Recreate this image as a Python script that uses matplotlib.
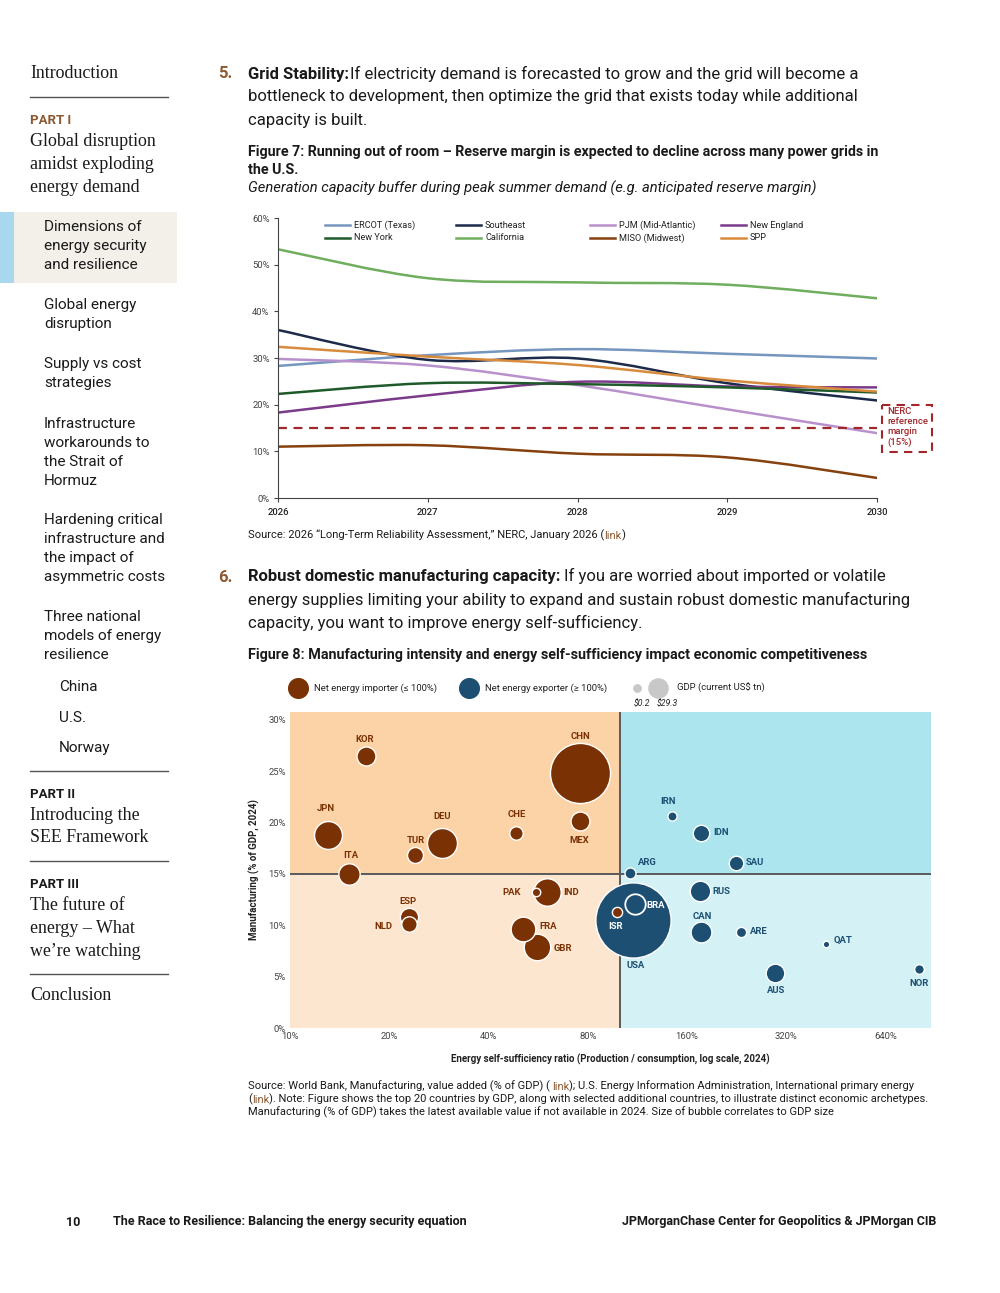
import matplotlib
matplotlib.use("Agg")
import matplotlib.pyplot as plt
from matplotlib.lines import Line2D
from matplotlib.path import Path
from matplotlib.patches import PathPatch, Rectangle

plt.rcParams['font.family'] = ['Roboto', 'DejaVu Sans']

# Figure 7: 予備率の見通し (%)
years = [2026, 2027, 2028, 2029, 2030]
ercot = [28.3, 30.6, 31.9, 30.9, 29.9]
southeast = [36.0, 29.6, 29.9, 24.6, 20.9]
pjm = [29.8, 28.4, 24.2, 19.0, 13.9]
new_england = [18.3, 22.0, 24.9, 23.9, 23.7]
new_york = [22.3, 24.6, 24.4, 23.7, 22.6]
california = [53.3, 47.1, 46.2, 45.7, 42.8]
miso = [11.0, 11.3, 9.5, 8.7, 4.3]
spp = [32.4, 30.3, 28.5, 25.2, 22.8]
nerc_margin = 15

region_names = ['ERCOT (Texas)', 'Southeast', 'PJM (Mid-Atlantic)', 'New England',
                'New York', 'California', 'MISO (Midwest)', 'SPP']
region_values = [ercot, southeast, pjm, new_england, new_york, california, miso, spp]

# Figure 8: 自給率 vs 製造業比率
countries = ['USA', 'CHN', 'DEU', 'JPN', 'IND', 'GBR', 'FRA', 'ITA', 'CAN', 'BRA',
             'RUS', 'KOR', 'MEX', 'AUS', 'ESP', 'IDN', 'TUR', 'NLD', 'SAU', 'CHE',
             'ARG', 'ISR', 'ARE', 'NOR', 'IRN', 'PAK', 'QAT']
self_sufficiency = [110, 76, 29, 13, 60, 56, 51, 15.1, 177, 111,
                    175, 17, 75.6, 296, 23, 177, 23.9, 23, 225, 48.6,
                    107.6, 98.3, 234, 808, 144, 55.8, 423]
manufacturing = [10.5, 24.8, 18.0, 18.8, 13.2, 7.9, 9.6, 15.0, 9.3, 12.1,
                 13.3, 26.5, 20.1, 5.4, 10.8, 19.0, 16.8, 10.1, 16.1, 19.0,
                 15.1, 11.3, 9.35, 5.76, 20.6, 13.2, 8.2]
gdp_tn = [29.3, 18.7, 4.66, 4.03, 3.91, 3.64, 3.16, 2.37, 2.24, 2.17,
          2.17, 1.87, 1.85, 1.80, 1.72, 1.40, 1.32, 1.23, 1.09, 0.94,
          0.63, 0.54, 0.54, 0.48, 0.44, 0.37, 0.22]
ratio_split = 100
manuf_split = 15

# 色など
line_colors = {'ERCOT (Texas)': '#7596BE', 'Southeast': '#1C2B4A', 'PJM (Mid-Atlantic)': '#B890CB',
               'New England': '#7B3A8A', 'New York': '#1F5A2A', 'California': '#6FAE5E',
               'MISO (Midwest)': '#86410F', 'SPP': '#D88B3C'}
BROWN = '#7A3205'
BLUE = '#1D4F73'
ACCENT = '#8C5A32'
TEXT = '#1a1a1a'
NERC_RED = '#A0282B'

# ラベルの位置 (points)
label_offsets = {'KOR': (-1, 11.4), 'JPN': (-1, 19.2), 'ITA': (1, 13.3), 'TUR': (1, 11), 'DEU': (0, 18.8),
                 'CHE': (0, 13.3), 'CHN': (0, 26.6), 'MEX': (0, -13.7), 'PAK': (-18, 0), 'IND': (18, 0),
                 'ESP': (-1, 11.4), 'NLD': (-18.5, -1.5), 'FRA': (18, 1.8), 'GBR': (19, -1.1),
                 'ISR': (-1.5, -10.3), 'BRA': (15.5, -1.1), 'USA': (2, -32.5), 'ARG': (12.5, 7.7),
                 'IRN': (-2.5, 10.7), 'IDN': (14.5, 0), 'SAU': (14, 0), 'RUS': (15.5, 0),
                 'CAN': (1, 11.8), 'ARE': (12.5, 0), 'QAT': (12.5, 2.6), 'AUS': (0.5, -12.9),
                 'NOR': (0, -10.7)}
white_labels = ['ISR', 'BRA']

W, H = 1000, 1293
fig = plt.figure(figsize=(10, 12.93), dpi=100)
pg = fig.add_axes([0, 0, 1, 1], zorder=0)
pg.set_xlim(0, W)
pg.set_ylim(H, 0)
pg.axis('off')


def txt(x, y, s, size, **kw):
    kw.setdefault('va', 'center')
    kw.setdefault('color', TEXT)
    return pg.text(x, y, s, fontsize=size, **kw)


def chain(x, y, parts, size, **kw):
    # 太字と通常を同じ行につなげる
    t = txt(x, y, parts[0][0], size, **{**kw, **parts[0][1]})
    for s, props in parts[1:]:
        gap = props.pop('gap', 0)
        p = {'color': TEXT, **kw, **props}
        p.pop('va', None)
        t = pg.annotate(s, xy=(1, 0), xycoords=t, xytext=(gap, 0), textcoords='offset points',
                        va='bottom', ha='left', fontsize=size, **p)
    return t


def ax_rect(l, t, r, b):
    return [l / W, 1 - b / H, (r - l) / W, (b - t) / H]


# ---- サイドバー ----
serif = 'Liberation Serif'
SER = 12.9
pg.add_patch(Rectangle((0, 212), 177, 71, color='#F3EFE9', lw=0))
pg.add_patch(Rectangle((0, 212), 14, 71, color='#A9D7EE', lw=0))
txt(30, 74, 'Introduction', SER, family=serif)
for yy in [97, 771, 861, 974]:
    pg.plot([30, 168], [yy, yy], color='#555555', lw=1)
txt(30, 120, 'PART I', 9.5, weight='bold', color=ACCENT)
for i, s in enumerate(['Global disruption', 'amidst exploding', 'energy demand']):
    txt(30, 142 + i * 22.5, s, SER, family=serif)
side_items = [
    (227, ['Dimensions of', 'energy security', 'and resilience']),
    (305, ['Global energy', 'disruption']),
    (364, ['Supply vs cost', 'strategies']),
    (424, ['Infrastructure', 'workarounds to', 'the Strait of', 'Hormuz']),
    (520, ['Hardening critical', 'infrastructure and', 'the impact of', 'asymmetric costs']),
    (617, ['Three national', 'models of energy', 'resilience']),
]
for y0, lines in side_items:
    for i, s in enumerate(lines):
        txt(44, y0 + i * 18.9, s, 11)
for yy, s in [(687, 'China'), (718, 'U.S.'), (748, 'Norway')]:
    txt(59, yy, s, 11)
txt(30, 794, 'PART II', 9.5, weight='bold')
txt(30, 816, 'Introducing the', SER, family=serif)
txt(30, 838, 'SEE Framework', SER, family=serif)
txt(30, 884, 'PART III', 9.5, weight='bold')
for i, s in enumerate(['The future of', 'energy \u2013 What', 'we\u2019re watching']):
    txt(30, 906 + i * 22.5, s, SER, family=serif)
txt(30, 996, 'Conclusion', SER, family=serif)

# ---- 本文 ----
BODY = 12.0
txt(218, 74, '5.', BODY, weight='bold', color=ACCENT)
chain(248, 74, [('Grid Stability:', {'weight': 'bold'}),
                ('If electricity demand is forecasted to grow and the grid will become a', {'gap': 1})], BODY)
txt(248, 96, 'bottleneck to development, then optimize the grid that exists today while additional', BODY)
txt(248, 120, 'capacity is built.', BODY)
txt(248, 152, 'Figure 7: Running out of room \u2013 Reserve margin is expected to decline across many power grids in',
    10.3, weight='bold')
txt(248, 170, 'the U.S.', 10.3, weight='bold')
txt(248, 188, 'Generation capacity buffer during peak summer demand (e.g. anticipated reserve margin)',
    10.6, style='italic')
chain(248, 535, [('Source: 2026 \u201cLong-Term Reliability Assessment,\u201d NERC, January 2026 (', {}),
                 ('link', {'color': ACCENT}), (')', {})], 8.0)

txt(218, 577, '6.', BODY, weight='bold', color=ACCENT)
chain(248, 577, [('Robust domestic manufacturing capacity:', {'weight': 'bold'}),
                 ('If you are worried about imported or volatile', {'gap': 2.5})], BODY)
txt(248, 600, 'energy supplies limiting your ability to expand and sustain robust domestic manufacturing', BODY)
txt(248, 623, 'capacity, you want to improve energy self-sufficiency.', BODY)
txt(248, 655, 'Figure 8: Manufacturing intensity and energy self-sufficiency impact economic competitiveness',
    10.4, weight='bold')

SRC = 8.05
chain(248, 1086, [('Source: World Bank, Manufacturing, value added (% of GDP) (', {}),
                  ('link', {'color': ACCENT, 'gap': 1.5}),
                  ('); U.S. Energy Information Administration, International primary energy', {})], SRC)
chain(248, 1099, [('(', {}), ('link', {'color': ACCENT}),
                  ('). Note: Figure shows the top 20 countries by GDP, along with selected additional countries, '
                   'to illustrate distinct economic archetypes.', {})], SRC)
txt(248, 1112, 'Manufacturing (% of GDP) takes the latest available value if not available in 2024. '
    'Size of bubble correlates to GDP size', SRC)

txt(66, 1222, '10', 9.0, weight='bold')
txt(113, 1222, 'The Race to Resilience: Balancing the energy security equation', 9.0, weight='bold')
txt(936, 1222, 'JPMorganChase Center for Geopolitics & JPMorgan CIB', 9.0, weight='bold', ha='right')

# ---- Figure 7 ----
ax1 = fig.add_axes(ax_rect(278, 218, 877, 498), zorder=1)
ax1.patch.set_alpha(0)


def smooth_path(xs, ys):
    pts = list(zip(xs, ys))
    verts = [pts[0]]
    codes = [Path.MOVETO]
    n = len(pts)
    for i in range(n - 1):
        p0, p1 = pts[max(i - 1, 0)], pts[i]
        p2, p3 = pts[i + 1], pts[min(i + 2, n - 1)]
        c1 = (p1[0] + (p2[0] - p0[0]) / 6, p1[1] + (p2[1] - p0[1]) / 6)
        c2 = (p2[0] - (p3[0] - p1[0]) / 6, p2[1] - (p3[1] - p1[1]) / 6)
        verts += [c1, c2, p2]
        codes += [Path.CURVE4] * 3
    return Path(verts, codes)


for name, vals in zip(region_names, region_values):
    ax1.add_patch(PathPatch(smooth_path(years, vals), fill=False, edgecolor=line_colors[name],
                            lw=1.8, capstyle='round', joinstyle='round'))
ax1.plot(years, [nerc_margin] * len(years), color=NERC_RED, lw=1.6, ls=(0, (4, 3)))
ax1.set_xlim(years[0], years[-1])
ax1.set_ylim(0, 60)
ax1.set_yticks(range(0, 61, 10))
ax1.set_yticklabels([f'{v}%' for v in range(0, 61, 10)])
ax1.set_xticks(years)
ax1.set_xticklabels([str(y) for y in years])
for s in ['top', 'right']:
    ax1.spines[s].set_visible(False)
for s in ['left', 'bottom']:
    ax1.spines[s].set_color('#444444')
    ax1.spines[s].set_linewidth(0.8)
ax1.tick_params(axis='y', labelsize=6.8, colors='#444444', length=3, width=0.8, pad=3)
ax1.tick_params(axis='x', labelsize=6.8, colors='#444444', length=3, width=0.8, pad=4)
for lab in ax1.get_xticklabels():
    lab.set_color('#222222')
    lab.set_fontweight('medium')

# 凡例 (手で配置)
leg_cols = [325, 456, 590, 721]
leg_rows = [225, 238]
for k, name in enumerate(region_names):
    px = leg_cols[k % 4]
    py = leg_rows[k // 4]
    ax1.add_line(Line2D([(px - 278) / 599, (px + 25 - 278) / 599], [(498 - py) / 280] * 2,
                        transform=ax1.transAxes, color=line_colors[name], lw=1.8, clip_on=False))
    ax1.text((px + 29 - 278) / 599, (498 - py) / 280, name, transform=ax1.transAxes,
             fontsize=6.6, va='center', color='#222222')

# NERC の囲み
pg.add_patch(Rectangle((882, 405), 50, 47, fill=False, edgecolor=NERC_RED, lw=1.5,
                       ls=(0, (4, 3))))
for i, s in enumerate(['NERC', 'reference', 'margin', '(15%)']):
    txt(887, 411 + i * 10.3, s, 6.8, color=NERC_RED, weight='medium')

# ---- Figure 8 ----
ax2 = fig.add_axes(ax_rect(290, 712, 931, 1028), zorder=1)
xmin, xmax = 10, 880
ymin, ymax = 0, 30.75
ax2.set_xscale('log', base=2)
ax2.set_xlim(xmin, xmax)
ax2.set_ylim(ymin, ymax)
ax2.add_patch(Rectangle((xmin, manuf_split), ratio_split - xmin, ymax - manuf_split, color='#FCD3A6', lw=0, zorder=0))
ax2.add_patch(Rectangle((xmin, ymin), ratio_split - xmin, manuf_split - ymin, color='#FDE6CF', lw=0, zorder=0))
ax2.add_patch(Rectangle((ratio_split, manuf_split), xmax - ratio_split, ymax - manuf_split, color='#ADE5EE', lw=0, zorder=0))
ax2.add_patch(Rectangle((ratio_split, ymin), xmax - ratio_split, manuf_split - ymin, color='#D4F1F6', lw=0, zorder=0))
ax2.axhline(manuf_split, color='#5A5A5A', lw=1.4, zorder=1)
ax2.axvline(ratio_split, color='#5A5A5A', lw=1.4, zorder=1)

order = sorted(range(len(countries)), key=lambda i: -gdp_tn[i])
for i in order:
    c = countries[i]
    col = BROWN if self_sufficiency[i] <= ratio_split else BLUE
    ax2.scatter(self_sufficiency[i], manufacturing[i], s=gdp_tn[i] * 100, color=col,
                edgecolor='white', linewidth=1.3 if c == 'BRA' else 1.0, zorder=3)
for i, c in enumerate(countries):
    col = BROWN if self_sufficiency[i] <= ratio_split else BLUE
    if c in white_labels:
        col = 'white'
    ax2.annotate(c, (self_sufficiency[i], manufacturing[i]), xytext=label_offsets[c],
                 textcoords='offset points', ha='center', va='center', fontsize=6.8,
                 weight='bold', color=col, zorder=5)

xt = [10, 20, 40, 80, 160, 320, 640]
ax2.set_xticks(xt)
ax2.set_xticklabels([f'{v}%' for v in xt])
ax2.minorticks_off()
ax2.set_yticks(range(0, 31, 5))
ax2.set_yticklabels([f'{v}%' for v in range(0, 31, 5)])
for s in ax2.spines.values():
    s.set_visible(False)
ax2.tick_params(length=0, labelsize=6.8, colors='#444444', pad=3)
ax2.set_xlabel('Energy self-sufficiency ratio (Production / consumption, log scale, 2024)',
               fontsize=7, weight='bold', color='#222222', labelpad=9)
ax2.set_ylabel('Manufacturing (% of GDP, 2024)', fontsize=7, weight='bold', color='#222222', labelpad=6)

# 凡例
pg.scatter([298], [688], s=200, color=BROWN)
txt(314, 688, 'Net energy importer (\u2264 100%)', 6.8, color='#222222')
pg.scatter([469], [688], s=200, color=BLUE)
txt(485, 688, 'Net energy exporter (\u2265 100%)', 6.8, color='#222222')
pg.scatter([637], [688], s=28, color='#C8C8C8')
pg.scatter([658], [688], s=190, color='#C8C8C8')
txt(677, 688, 'GDP (current US$ tn)', 6.8, color='#222222')
txt(642, 704, '$0.2', 6.2, style='italic', color='#222222', ha='center')
txt(667, 704, '$29.3', 6.2, style='italic', color='#222222', ha='center')

fig.savefig('out.png', dpi=100)
